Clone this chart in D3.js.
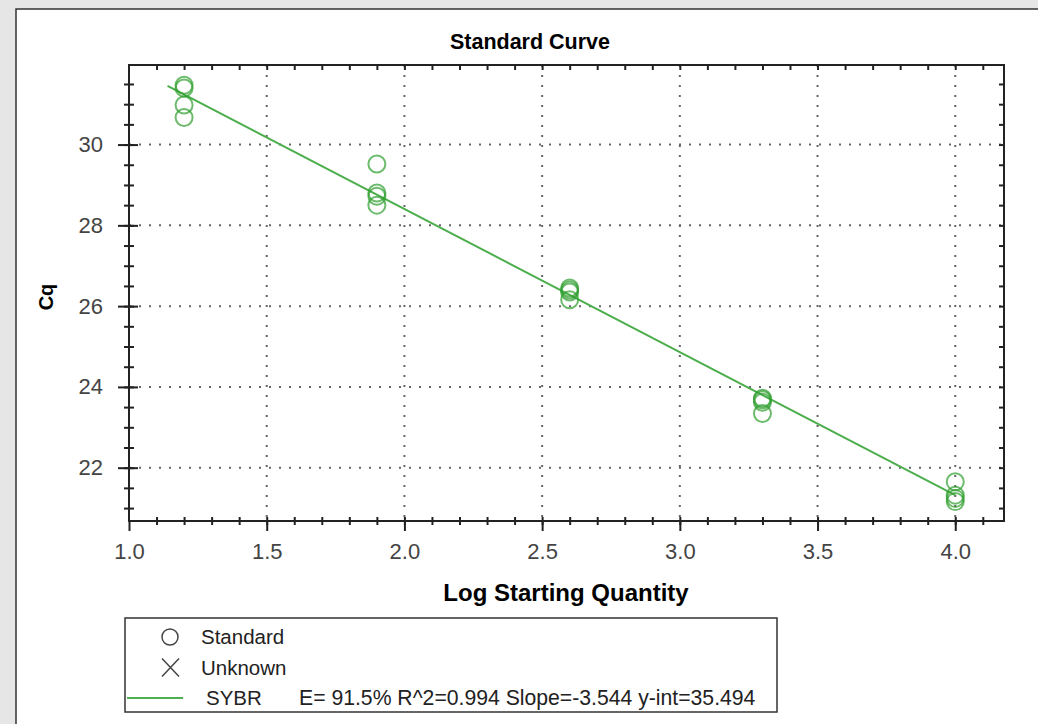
<!DOCTYPE html>
<html>
<head>
<meta charset="utf-8">
<script src="https://cdn.jsdelivr.net/npm/d3@7"></script>
<style>
  body { margin: 0; background: #e6e6e6; }
  svg { display: block; font-family: "Liberation Sans", Arial, sans-serif; }
</style>
</head>
<body>
<script>
// replicate wells: log starting quantity and Cq
var logQty = [1.2, 1.2, 1.2, 1.2,
              1.9, 1.9, 1.9, 1.9,
              2.6, 2.6, 2.6, 2.6,
              3.3, 3.3, 3.3, 3.3,
              4.0, 4.0, 4.0, 4.0];
var cqValues = [31.47, 31.40, 30.98, 30.67,
                29.52, 28.80, 28.72, 28.50,
                26.45, 26.40, 26.35, 26.16,
                23.72, 23.68, 23.62, 23.34,
                21.65, 21.32, 21.24, 21.16];

var fitSlope = -3.544, fitIntercept = 35.494;
var fitRange = [1.14, 4.0];

var xTicks = [1.0, 1.5, 2.0, 2.5, 3.0, 3.5, 4.0];
var yTicks = [22, 24, 26, 28, 30];
var legendLabels = ["Standard", "Unknown", "SYBR"];
var fitText = "E= 91.5% R^2=0.994 Slope=-3.544 y-int=35.494";

var W = 1038, H = 724;
var margin = { top: 65, left: 129, right: 34, bottom: 203 };
var width = W - margin.left - margin.right,
    height = H - margin.top - margin.bottom;

var svg = d3.select("body").append("svg")
    .attr("width", W)
    .attr("height", H)

// window panel (only left and top edges show)
svg.append("rect")
    .attr("x", 16).attr("y", 9)
    .attr("width", W - 16).attr("height", H - 9)
    .attr("fill", "#fff")
svg.append("path")
    .attr("d", "M16," + H + "V9H" + W)
    .attr("fill", "none")
    .attr("stroke", "#333")
    .attr("stroke-width", 1.5)

var xScale = d3.scaleLinear()
    .domain([1.0, 4.177])
    .range([0, width])

var yScale = d3.scaleLinear()
    .domain([20.68, 31.97])
    .range([height, 0])

var canvas = svg.append("g")
    .attr("transform", "translate(" + margin.left + "," + margin.top + ")")

// dotted grid
canvas.append("g").selectAll("line")
    .data(xTicks.slice(1))
    .enter().append("line")
    .attr("x1", function (d) { return xScale(d); })
    .attr("x2", function (d) { return xScale(d); })
    .attr("y1", 0).attr("y2", height)
    .attr("stroke", "#666")
    .attr("stroke-width", 2)
    .attr("stroke-dasharray", "2,8")

canvas.append("g").selectAll("line")
    .data(yTicks)
    .enter().append("line")
    .attr("x1", 0).attr("x2", width)
    .attr("y1", function (d) { return yScale(d); })
    .attr("y2", function (d) { return yScale(d); })
    .attr("stroke", "#666")
    .attr("stroke-width", 2)
    .attr("stroke-dasharray", "2,8")

// minor tick values
var xMinor = d3.range(11, 42).map(function (d) { return d / 10; });
var yMinor = d3.range(42, 64).map(function (d) { return d / 2; });

function styleAxis(g) {
    g.selectAll(".domain").remove();
    g.selectAll(".tick line").attr("stroke", "#222").attr("stroke-width", 2);
}

// bottom axis
canvas.append("g")
    .attr("transform", "translate(0," + height + ")")
    .call(d3.axisTop(xScale).tickValues(xMinor).tickSize(4).tickFormat(""))
    .call(styleAxis)
canvas.append("g")
    .attr("transform", "translate(0," + height + ")")
    .call(d3.axisBottom(xScale).tickValues(xMinor).tickSize(4).tickFormat(""))
    .call(styleAxis)
var xAxis = canvas.append("g")
    .attr("transform", "translate(0," + height + ")")
    .call(d3.axisBottom(xScale).tickValues(xTicks).tickSize(10).tickPadding(12)
        .tickFormat(d3.format(".1f")))
    .call(styleAxis)
xAxis.selectAll("text")
    .attr("fill", "#444")
    .style("font-size", "22px")

// top axis
canvas.append("g")
    .call(d3.axisBottom(xScale).tickValues(xMinor).tickSize(5).tickFormat(""))
    .call(styleAxis)

// left axis
canvas.append("g")
    .call(d3.axisLeft(yScale).tickValues(yMinor).tickSize(5).tickFormat(""))
    .call(styleAxis)
canvas.append("g")
    .call(d3.axisRight(yScale).tickValues(yMinor).tickSize(5).tickFormat(""))
    .call(styleAxis)
canvas.append("g")
    .call(d3.axisRight(yScale).tickValues(yTicks).tickSize(9).tickFormat(""))
    .call(styleAxis)
var yAxis = canvas.append("g")
    .call(d3.axisLeft(yScale).tickValues(yTicks).tickSize(11).tickPadding(15))
    .call(styleAxis)
yAxis.selectAll("text")
    .attr("fill", "#444")
    .style("font-size", "22px")

// right axis
canvas.append("g")
    .attr("transform", "translate(" + width + ",0)")
    .call(d3.axisLeft(yScale).tickValues(yMinor).tickSize(5).tickFormat(""))
    .call(styleAxis)

// frame
canvas.append("rect")
    .attr("width", width).attr("height", height)
    .attr("fill", "none")
    .attr("stroke", "#222")
    .attr("stroke-width", 2)

// regression line
var line = d3.line()
    .x(function (d) { return xScale(d); })
    .y(function (d) { return yScale(fitSlope * d + fitIntercept); })

canvas.append("path")
    .datum(fitRange)
    .attr("d", line)
    .attr("fill", "none")
    .attr("stroke", "#4cae4c")
    .attr("stroke-width", 2)

// standards
canvas.append("g").selectAll("circle")
    .data(logQty)
    .enter().append("circle")
    .attr("cx", function (d) { return xScale(d); })
    .attr("cy", function (d, i) { return yScale(cqValues[i]); })
    .attr("r", 8.5)
    .attr("fill", "none")
    .attr("stroke", "#2f9e2f")
    .attr("stroke-opacity", 0.7)
    .attr("stroke-width", 2)

// titles
svg.append("text")
    .attr("x", 530).attr("y", 49)
    .attr("text-anchor", "middle")
    .style("font-size", "21.5px")
    .style("font-weight", "bold")
    .text("Standard Curve")

svg.append("text")
    .attr("x", 566).attr("y", 601)
    .attr("text-anchor", "middle")
    .style("font-size", "24px")
    .style("font-weight", "bold")
    .text("Log Starting Quantity")

svg.append("text")
    .attr("transform", "translate(53,297) rotate(-90)")
    .attr("text-anchor", "middle")
    .style("font-size", "20px")
    .style("font-weight", "bold")
    .text("Cq")

// legend
var legend = svg.append("g").attr("transform", "translate(125,618)")
legend.append("rect")
    .attr("width", 652).attr("height", 94)
    .attr("fill", "#fff")
    .attr("stroke", "#333")
    .attr("stroke-width", 1.5)

var rowY = d3.scalePoint().domain(legendLabels).range([19, 80])

legend.append("circle")
    .attr("cx", 45).attr("cy", rowY("Standard"))
    .attr("r", 8)
    .attr("fill", "none")
    .attr("stroke", "#444")
    .attr("stroke-width", 1.5)

legend.append("path")
    .attr("d", "M37," + (rowY("Unknown") - 9) + "l17,18M54," + (rowY("Unknown") - 9) + "l-17,18")
    .attr("stroke", "#444")
    .attr("stroke-width", 1.5)

legend.append("line")
    .attr("x1", 2).attr("x2", 58)
    .attr("y1", rowY("SYBR")).attr("y2", rowY("SYBR"))
    .attr("stroke", "#4cae4c")
    .attr("stroke-width", 2)

legend.selectAll("text.lab")
    .data(legendLabels)
    .enter().append("text")
    .attr("class", "lab")
    .attr("x", function (d) { return d === "SYBR" ? 81 : 76; })
    .attr("y", function (d) { return rowY(d) + 7; })
    .attr("fill", "#222")
    .style("font-size", "20.5px")
    .text(function (d) { return d; })

legend.append("text")
    .attr("x", 174).attr("y", rowY("SYBR") + 7)
    .attr("fill", "#222")
    .style("font-size", "21.2px")
    .text(fitText)
</script>
</body>
</html>
